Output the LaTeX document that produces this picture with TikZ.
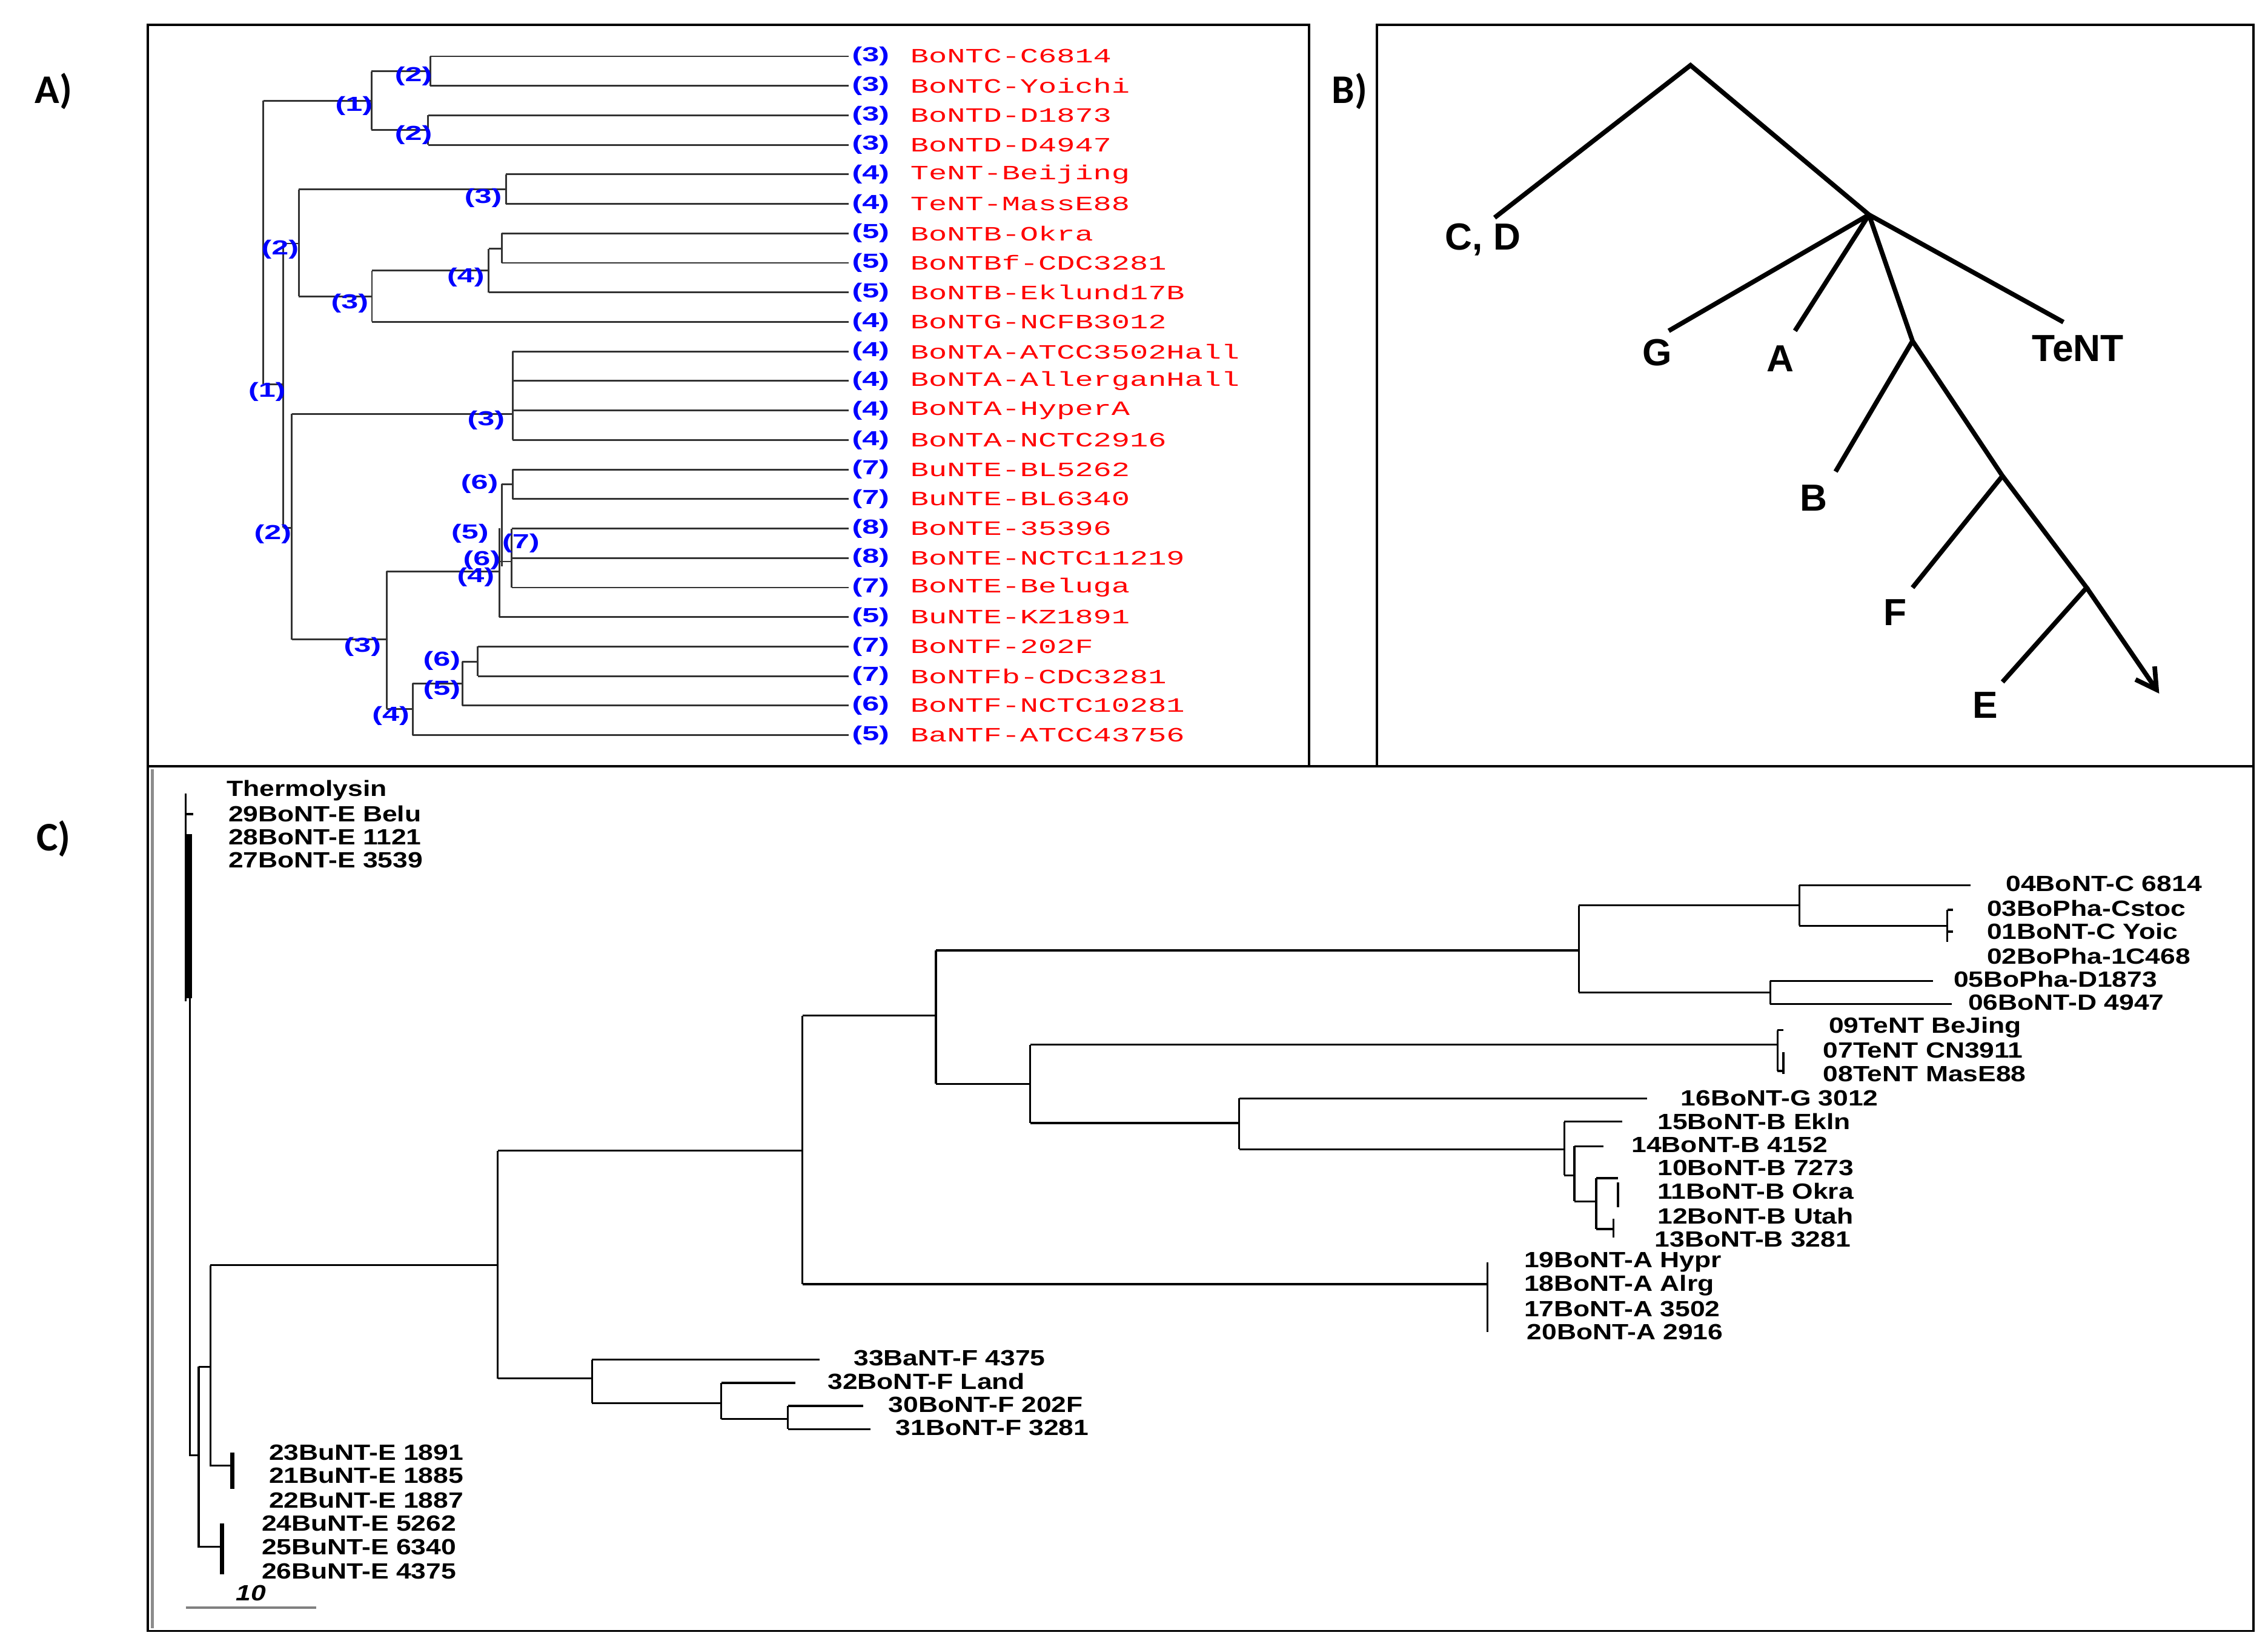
\documentclass[tikz,border=0pt]{standalone}
\usepackage{fontspec}
\usetikzlibrary{arrows.meta}
\setmainfont{Liberation Sans}
\newfontfamily\redmono{Liberation Mono}[FakeStretch=1.5]
\newfontfamily\bluefont{Liberation Sans}[FakeStretch=1.5]
\newfontfamily\cfont{Liberation Sans}[FakeStretch=1.22]
\newfontfamily\panelfont{Carlito}
\begin{document}
\begin{tikzpicture}[x=0.5pt,y=-0.5pt,
  tl/.style={line width=0.6pt,black!80},
  bl/.style={font=\bluefont\fontsize{7}{7}\selectfont\bfseries,text=blue,inner sep=0pt},
  rl/.style={font=\redmono\fontsize{7}{8}\selectfont,text=red,anchor=west,inner sep=0pt},
  bb/.style={line width=1.6pt,black},
  bt/.style={font=\fontsize{13}{14}\selectfont\bfseries,inner sep=0pt},
  cl/.style={font=\cfont\fontsize{7.6}{8}\selectfont\bfseries,anchor=west,inner sep=0pt},
  ct/.style={line width=0.7pt,black},
  pl/.style={font=\panelfont\fontsize{14}{15}\selectfont\bfseries,inner sep=0pt}]
\useasboundingbox (0,0) rectangle (1563,1135);
% frames
\draw[line width=0.8pt] (102,17) rectangle (902,528);
\draw[line width=0.8pt] (949,17) rectangle (1553,528);
\draw[line width=0.8pt] (102,528) rectangle (1553,1124);
\draw[line width=1.2pt,black!45] (105,530) -- (105,1122);
\node[pl] (pA) at (37,63) {A)};
\node[pl] (pB) at (930,63) {B)};
\node[pl] (pC) at (37,578) {C)};
% ---------- Panel A ----------
\foreach \i/\n/\s in {0/3/BoNTC-C6814,1/3/BoNTC-Yoichi,2/3/BoNTD-D1873,3/3/BoNTD-D4947,4/4/TeNT-Beijing,5/4/TeNT-MassE88,6/5/BoNTB-Okra,7/5/BoNTBf-CDC3281,8/5/BoNTB-Eklund17B,9/4/BoNTG-NCFB3012,10/4/BoNTA-ATCC3502Hall,11/4/BoNTA-AllerganHall,12/4/BoNTA-HyperA,13/4/BoNTA-NCTC2916,14/7/BuNTE-BL5262,15/7/BuNTE-BL6340,16/8/BoNTE-35396,17/8/BoNTE-NCTC11219,18/7/BoNTE-Beluga,19/5/BuNTE-KZ1891,20/7/BoNTF-202F,21/7/BoNTFb-CDC3281,22/6/BoNTF-NCTC10281,23/5/BaNTF-ATCC43756}{
  \node[bl] (an\i) at (600,{38.8+20.34*\i}) {(\n)};
  \node[rl] (as\i) at (627,{38.8+20.34*\i}) {\s};
}
\def\Y#1{{38.8+20.34*#1}}
\foreach \x/\i in {296.5/0,296.5/1,295.1/2,295.1/3,348.7/4,348.7/5,345.7/6,345.7/7,336.7/8,256.3/9,353.2/10,353.2/11,353.2/12,353.2/13,353.2/14,353.2/15,352.7/16,352.7/17,352.7/18,344.1/19,329.2/20,329.2/21,318.6/22,284.5/23}
  \draw[tl] (\x,\Y{\i}) -- (585,\Y{\i});
\draw[tl] (296.5,\Y{0}) -- (296.5,\Y{1}) (295.1,\Y{2}) -- (295.1,\Y{3});
\draw[tl] (256,49.2) -- (256,89.5) (256,49.2) -- (296.5,49.2) (256,89.5) -- (295.1,89.5);
\draw[tl] (181.4,69.4) -- (181.4,264.7) (181.4,69.4) -- (256,69.4) (181.4,264.7) -- (195.3,264.7);
\draw[tl] (195.3,167.8) -- (195.3,363.8) (195.3,167.8) -- (205.9,167.8) (195.3,363.8) -- (201.1,363.8);
\draw[tl] (205.9,130.5) -- (205.9,204.2) (205.9,130.5) -- (348.7,130.5) (205.9,204.2) -- (256.3,204.2);
\draw[tl] (348.7,\Y{4}) -- (348.7,\Y{5});
\draw[tl] (256.3,186.4) -- (256.3,\Y{9}) (256.3,186.4) -- (336.7,186.4);
\draw[tl] (336.7,171.4) -- (336.7,\Y{8}) (336.7,171.4) -- (345.7,171.4) (345.7,\Y{6}) -- (345.7,\Y{7});
\draw[tl] (353.2,\Y{10}) -- (353.2,\Y{13}) (201.1,285.2) -- (353.2,285.2);
\draw[tl] (201.1,285.2) -- (201.1,440.8) (201.1,440.8) -- (266.4,440.8);
\draw[tl] (266.4,393.7) -- (266.4,488.6) (266.4,393.7) -- (344.1,393.7) (266.4,488.6) -- (284.5,488.6);
\draw[tl] (353.2,\Y{14}) -- (353.2,\Y{15}) (345.7,333.6) -- (353.2,333.6) (345.7,333.6) -- (345.7,390.5);
\draw[tl] (352.7,\Y{16}) -- (352.7,\Y{18}) (344.1,387) -- (352.7,387) (344.1,364) -- (344.1,\Y{19});
\draw[tl] (284.5,471) -- (284.5,\Y{23}) (284.5,471) -- (318.6,471);
\draw[tl] (318.6,456) -- (318.6,\Y{22}) (318.6,456) -- (329.2,456) (329.2,\Y{20}) -- (329.2,\Y{21});
\foreach \x/\y/\t/\k in {244/73/1/a,285/52.5/2/b,285/93/2/c,184/270/1/d,193/172/2/e,188/368/2/f,333/136.3/3/g,241/209/3/h,321/191/4/i,335/289.7/3/j,249.8/445.7/3/k,330.5/333.6/6/l,323.9/367.7/5/m,359/374.2/7/n,332/386.2/6/o,327.9/397.6/4/p,269.3/493.5/4/q,304.5/475.6/5/r,304.5/455.5/6/s}
  \node[bl] (ai\k) at (\x,\y) {(\t)};
% ---------- Panel B ----------
\coordinate (r) at (1165,45);
\coordinate (cd) at (1030,150);
\coordinate (n1) at (1288,148);
\coordinate (g) at (1150,228);
\coordinate (a) at (1237,228);
\coordinate (t) at (1422,222);
\coordinate (n2) at (1318,235);
\coordinate (b) at (1265,325);
\coordinate (n3) at (1380,328);
\coordinate (f) at (1318,405);
\coordinate (n4) at (1438,405);
\coordinate (e) at (1380,470);
\coordinate (end) at (1488,478);
\draw[bb] (cd) -- (r) -- (n1) -- (g) (n1) -- (a) (n1) -- (t) (n1) -- (n2) -- (b) (n2) -- (n3) -- (f) (n3) -- (n4) -- (e);
\draw[bb,-{Straight Barb[length=7pt,width=8pt]}] (n4) -- (end);
\node[bt] (lcd) at (1022,165) {C, D};
\node[bt] (lg) at (1142,243) {G};
\node[bt] (la) at (1227,247) {A};
\node[bt] (lt) at (1432,240) {TeNT};
\node[bt] (lb) at (1250,343) {B};
\node[bt] (lf) at (1306,422) {F};
\node[bt] (le) at (1368,486) {E};
% ---------- Panel C ----------
\foreach \x/\y/\s in {156/545/Thermolysin,157/561/29BoNT-E Belu,157/577/28BoNT-E 1121,157/593/27BoNT-E 3539,
 1382/609/04BoNT-C 6814,1369/626/03BoPha-Cstoc,1369/642/01BoNT-C Yoic,1369/659/02BoPha-1C468,1346/675/05BoPha-D1873,1356/691/06BoNT-D 4947,
 1260/708/09TeNT BeJing,1256/724/07TeNT CN3911,1256/740/08TeNT MasE88,1158/757/16BoNT-G 3012,1142/773/15BoNT-B Ekln,1124/789/14BoNT-B 4152,
 1142/805/10BoNT-B 7273,1142/821/11BoNT-B Okra,1142/838/12BoNT-B Utah,1140/854/13BoNT-B 3281,1050/870/19BoNT-A Hypr,1050/886/18BoNT-A Alrg,
 1050/902/17BoNT-A 3502,1052/918/20BoNT-A 2916,588/936/33BaNT-F 4375,570/952/32BoNT-F Land,612/968/30BoNT-F 202F,617/984/31BoNT-F 3281,
 185/1001/23BuNT-E 1891,185/1017/21BuNT-E 1885,185/1034/22BuNT-E 1887,180/1050/24BuNT-E 5262,180/1066/25BuNT-E 6340,180/1083/26BuNT-E 4375}
  \node[cl] at (\x,\y) {\s};
\draw[ct] (128,547) -- (128,690);
\draw[line width=2.2pt] (130,575) -- (130,688);
\draw[ct] (128,561) -- (133,561);
\draw[ct] (131,600) -- (131,1003) -- (137,1003);
\draw[ct] (137,942) -- (137,1066) -- (153,1066);
\draw[line width=1.4pt] (153,1050) -- (153,1085);
\draw[ct] (137,942) -- (145,942);
\draw[ct] (145,872) -- (145,1010) -- (160,1010);
\draw[line width=1.4pt] (160,1001) -- (160,1026);
\draw[ct] (145,872) -- (343,872);
\draw[ct] (343,793) -- (343,950);
\draw[ct] (343,793) -- (553,793) (553,700) -- (553,885);
\draw[ct] (553,700) -- (645,700) (645,655) -- (645,747);
\draw[ct] (645,655) -- (1088,655) (1088,624) -- (1088,684);
\draw[ct] (1088,624) -- (1240,624) (1240,610) -- (1240,638) (1240,610) -- (1358,610) (1240,638) -- (1342,638);
\draw[ct] (1342,627) -- (1342,649) (1342,627) -- (1346,627) (1342,642) -- (1346,642);
\draw[ct] (1088,684) -- (1220,684) (1220,676) -- (1220,692) (1220,676) -- (1332,676) (1220,692) -- (1345,692);
\draw[ct] (645,747) -- (710,747) (710,720) -- (710,774);
\draw[ct] (710,720) -- (1225,720) (1225,710) -- (1225,738) (1225,710) -- (1229,710) (1225,738) -- (1229,738) (1229,725) -- (1229,740);
\draw[ct] (710,774) -- (854,774) (854,757) -- (854,792) (854,757) -- (1135,757);
\draw[ct] (854,792) -- (1078,792) (1078,773) -- (1078,810) (1078,773) -- (1118,773);
\draw[ct] (1078,810) -- (1085,810) (1085,790) -- (1085,828) (1085,790) -- (1105,790) (1085,828) -- (1100,828);
\draw[ct] (1100,812) -- (1100,847) (1100,812) -- (1115,812) (1115,815) -- (1115,832) (1100,847) -- (1112,847) (1112,840) -- (1112,853);
\draw[ct] (553,885) -- (1025,885) (1025,870) -- (1025,918);
\draw[ct] (343,950) -- (408,950) (408,937) -- (408,967) (408,937) -- (565,937);
\draw[ct] (408,967) -- (497,967) (497,953) -- (497,978) (497,953) -- (548,953);
\draw[ct] (497,978) -- (543,978) (543,969) -- (543,985) (543,969) -- (595,969) (543,985) -- (600,985);
\draw[line width=0.8pt,black!50] (128,1108) -- (218,1108);
\node[font=\cfont\fontsize{7.6}{8}\selectfont\bfseries\itshape,inner sep=0pt] (sc) at (173,1098) {10};
\end{tikzpicture}
\end{document}
